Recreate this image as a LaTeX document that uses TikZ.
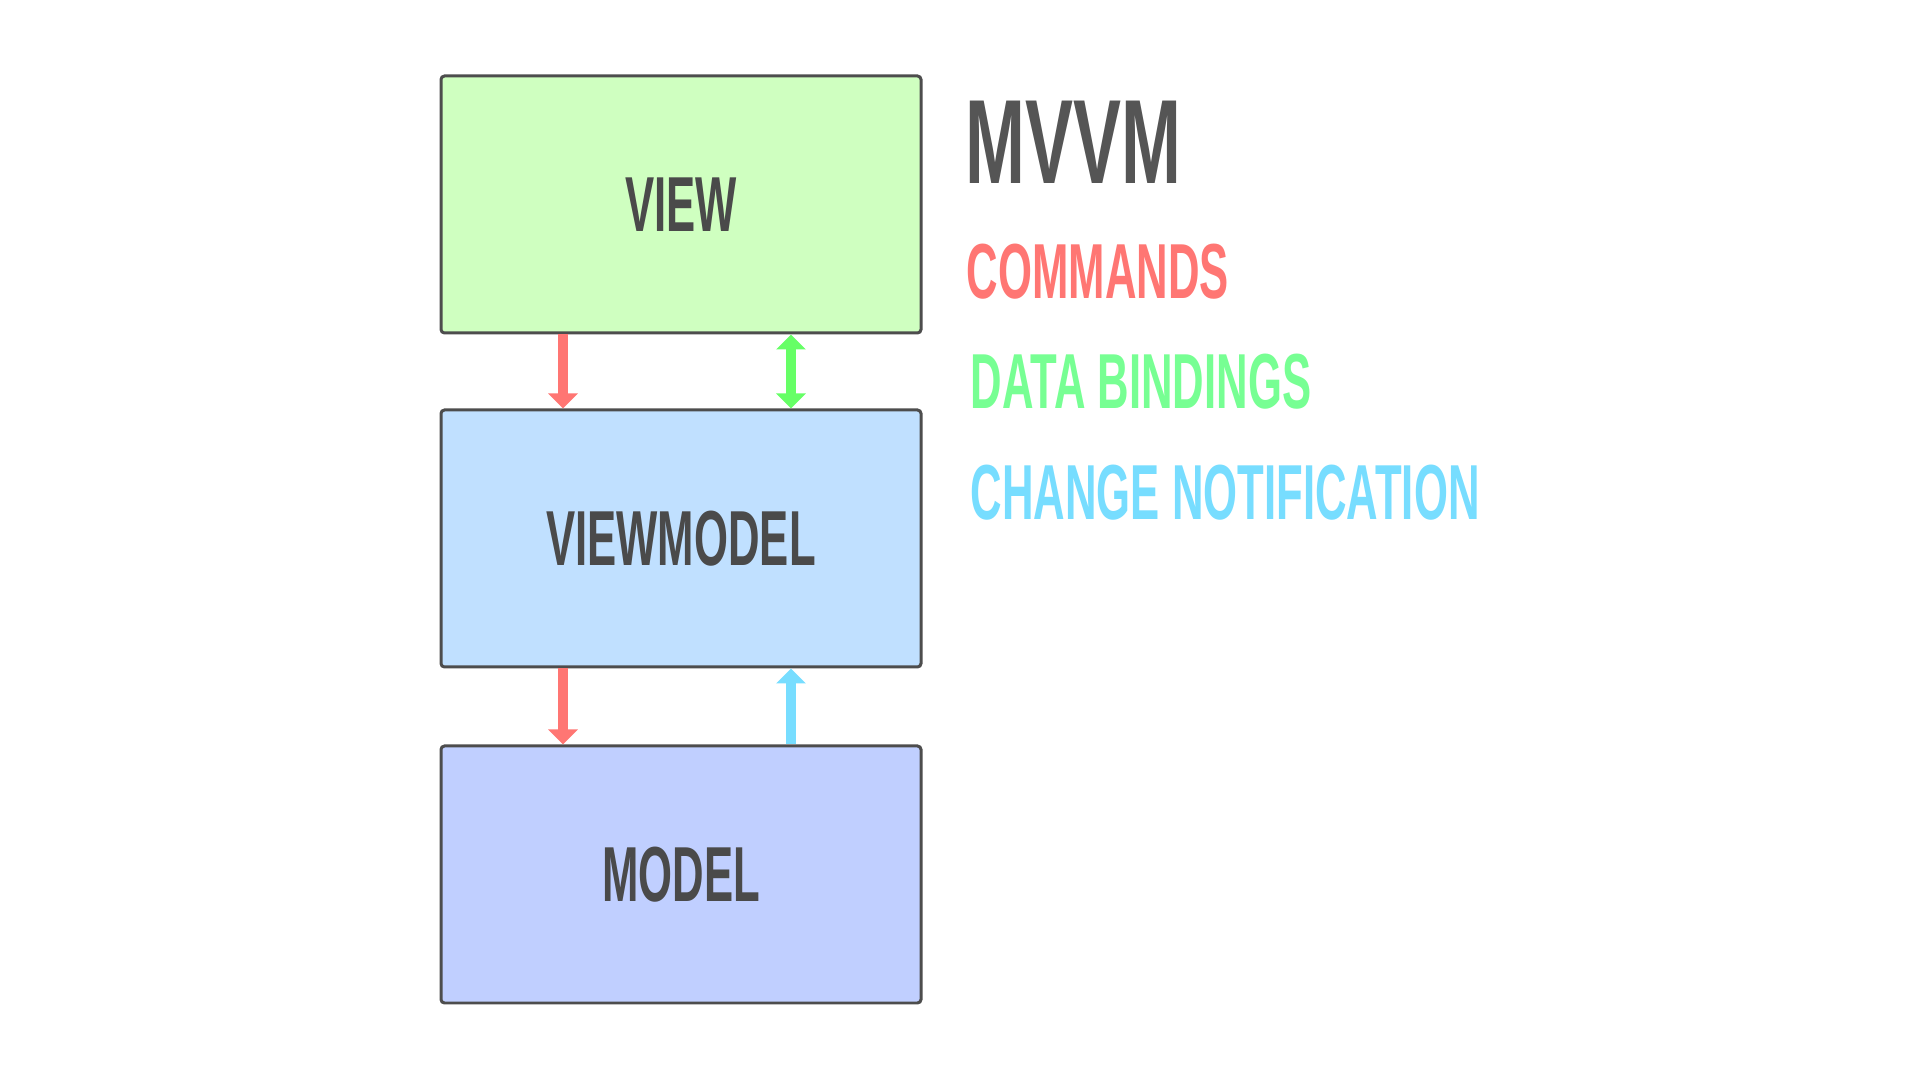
\documentclass[tikz,border=0pt]{standalone}
\usepackage{fontspec}
\usepackage{tikz}
\usetikzlibrary{arrows.meta}
\newfontfamily\bebas{Liberation Sans}[FakeStretch=0.56]
\newfontfamily\bebastitle{Liberation Sans}[FakeStretch=0.6]
\definecolor{myviewcolor}{HTML}{CFFFC0}
\definecolor{myvmcolor}{HTML}{C0E0FF}
\definecolor{mymodelcolor}{HTML}{C0CFFF}
\definecolor{myedgecolor}{HTML}{4D4D4D}
\definecolor{mytextcolor}{HTML}{4A4A4A}
\definecolor{mytitlecolor}{HTML}{555555}
\definecolor{mycmdcolor}{HTML}{FF7673}
\definecolor{mybindcolor}{HTML}{77FF93}
\definecolor{mybindarrowcolor}{HTML}{66FF66}
\definecolor{mynotifycolor}{HTML}{77DDFF}

\begin{document}
\begin{tikzpicture}[
  layerbox/.style={draw=myedgecolor, line width=0.85pt, rounded corners=1pt, rectangle, minimum width=4.8cm, minimum height=2.57cm, text=mytextcolor},
  flow/.style={line width=2.6pt, -{Triangle[width=0.29cm, length=0.15cm]}},
  legend/.style={anchor=base west, inner sep=0pt}]%
\fill[white] (0, 0) rectangle (19.2, 10.8);%
\useasboundingbox (0, 0) rectangle (19.2, 10.8);%
% layers
\node[layerbox, fill=myviewcolor] (view) at (6.81, 8.755) {\bebas\bfseries\fontsize{22.2pt}{22.2pt}\selectfont VIEW};%
\node[layerbox, fill=myvmcolor] (vm) at (6.81, 5.415) {\bebas\bfseries\fontsize{22.2pt}{22.2pt}\selectfont VIEWMODEL};%
\node[layerbox, fill=mymodelcolor] (model) at (6.81, 2.055) {\bebas\bfseries\fontsize{22.2pt}{22.2pt}\selectfont MODEL};%
% connectors
\draw[flow, mycmdcolor] ([xshift=-1.18cm]view.south) -- ([xshift=-1.18cm]vm.north);%
\draw[flow, mybindarrowcolor, {Triangle[width=0.29cm, length=0.15cm]}-{Triangle[width=0.29cm, length=0.15cm]}] ([xshift=1.1cm]view.south) -- ([xshift=1.1cm]vm.north);%
\draw[flow, mycmdcolor] ([xshift=-1.18cm]vm.south) -- ([xshift=-1.18cm]model.north);%
\draw[flow, mynotifycolor] ([xshift=1.1cm]model.north) -- ([xshift=1.1cm]vm.south);%
% legend
\node[legend, text=mytitlecolor] (title) at (9.65, 8.96) {\bebastitle\bfseries\fontsize{34.1pt}{34.1pt}\selectfont MVVM};%
\node[legend, text=mycmdcolor] (cmd) at (9.66, 7.81) {\bebas\bfseries\fontsize{22.2pt}{22.2pt}\selectfont COMMANDS};%
\node[legend, text=mybindcolor] (bind) at (9.70, 6.71) {\bebas\bfseries\fontsize{22.2pt}{22.2pt}\selectfont DATA BINDINGS};%
\node[legend, text=mynotifycolor] (notify) at (9.70, 5.60) {\bebas\bfseries\fontsize{22.2pt}{22.2pt}\selectfont CHANGE NOTIFICATION};%
\end{tikzpicture}
\end{document}
